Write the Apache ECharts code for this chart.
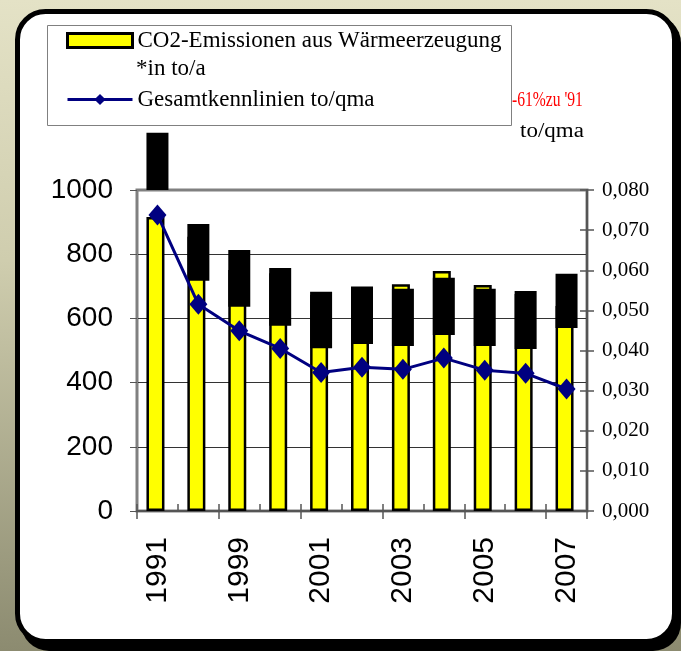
<!DOCTYPE html>
<html><head><meta charset="utf-8">
<script src="https://cdn.jsdelivr.net/npm/echarts@6/dist/echarts.min.js"></script>
<style>
html,body{margin:0;padding:0;width:681px;height:651px;overflow:hidden;
background:linear-gradient(to bottom,#e4e2c6 0%,#cfcdae 40%,#8c8b70 100%);}
#c{width:681px;height:651px;}
</style>
</head><body><div id="c"></div>
<script>
// Data
const categories = ['1991','1998','1999','2000','2001','2002','2003','2004','2005','2006','2007'];
const emissions = [916, 854, 751, 741, 673, 692, 706, 748, 704, 676, 639];
const coverBottom = [1000, 717, 636, 577, 507, 520, 514, 548, 514, 505, 570];
const coverTop = [1178, 894, 813, 757, 683, 699, 692, 727, 692, 685, 739];
const kennlinie = [0.0738, 0.0515, 0.0449, 0.0405, 0.0345, 0.0358, 0.0353, 0.0381, 0.0351, 0.0343, 0.0304];
const leftAxis = {min: 0, max: 1000, interval: 200};
const rightAxis = {min: 0, max: 0.08, interval: 0.01};
const barName = 'CO2-Emissionen aus Wärmeerzeugung';
const barNameLine2 = '*in to/a';
const lineName = 'Gesamtkennlinien to/qma';
const noteText = "-61%zu '91";
const rightUnit = 'to/qma';

const coverHeight = coverTop.map((t, i) => t - coverBottom[i]);
const sans = '"Liberation Sans", Arial, sans-serif';
const serif = '"Liberation Serif", "Times New Roman", serif';

const chart = echarts.init(document.getElementById('c'), null, {renderer: 'canvas'});
chart.setOption({
  animation: false,
  backgroundColor: 'transparent',
  grid: {left: 137, right: 94, top: 190, bottom: 140, show: true,
         borderColor: '#808080', borderWidth: 3, backgroundColor: 'transparent'},
  legend: {
    orient: 'vertical', left: 66, top: 29, padding: 0, itemGap: 36,
    itemWidth: 65, itemHeight: 14,
    textStyle: {fontFamily: serif, fontSize: 23, color: '#000', lineHeight: 23},
    data: [{name: barName, icon: 'rect', itemStyle: {borderWidth: 3}},
           {name: lineName, lineStyle: {width: 3}}],
    selectedMode: false
  },
  xAxis: [{
    type: 'category', data: categories, position: 'bottom',
    axisLine: {lineStyle: {color: '#555', width: 2}},
    axisTick: {show: true, length: 8, lineStyle: {color: '#555', width: 1.5}},
    axisLabel: {rotate: 90, interval: 1, margin: 26, color: '#000',
                fontFamily: sans, fontSize: 30}
  }, {
    type: 'category', data: categories, position: 'bottom',
    axisLine: {show: false},
    axisTick: {show: true, inside: true, length: 7, lineStyle: {color: '#555', width: 1.5}},
    axisLabel: {show: false}
  }],
  yAxis: [{
    type: 'value', position: 'left', ...leftAxis,
    axisLine: {show: true, lineStyle: {color: '#808080', width: 2}},
    axisTick: {show: true, length: 7, lineStyle: {color: '#555'}},
    axisLabel: {margin: 24, color: '#000', fontFamily: sans, fontSize: 28,
                formatter: v => String(v)},
    splitLine: {show: true, showMaxLine: false, lineStyle: {color: '#333', width: 1}}
  }, {
    type: 'value', position: 'right', ...rightAxis,
    axisLine: {show: true, lineStyle: {color: '#555', width: 2}},
    axisTick: {show: true, length: 7, lineStyle: {color: '#555', width: 1.5}},
    axisLabel: {margin: 15, color: '#000', fontFamily: serif, fontSize: 21,
                formatter: v => v.toFixed(3).replace('.', ',')},
    splitLine: {show: false}
  }, {
    type: 'value', position: 'right', ...rightAxis, offset: 0,
    axisLine: {show: false},
    axisTick: {show: true, inside: true, length: 7, lineStyle: {color: '#555', width: 1.5}},
    axisLabel: {show: false},
    splitLine: {show: false}
  }],
  series: [{
    name: barName, type: 'bar', data: emissions, barWidth: 18, barGap: '-100%',
    itemStyle: {color: '#ffff00', borderColor: '#000', borderWidth: 2.5},
    silent: true, z: 2
  }, {
    name: 'coverBase', type: 'bar', stack: 'cover', data: coverBottom, barWidth: 22,
    barGap: '-100%', itemStyle: {color: 'rgba(0,0,0,0)'}, silent: true, clip: false, z: 3
  }, {
    name: 'cover', type: 'bar', stack: 'cover', data: coverHeight, barWidth: 22,
    barGap: '-100%', itemStyle: {color: '#000'}, silent: true, clip: false, z: 3
  }, {
    name: lineName, type: 'line', yAxisIndex: 1, data: kennlinie,
    symbol: 'diamond', symbolSize: [18, 21],
    lineStyle: {color: '#000080', width: 3},
    itemStyle: {color: '#000080'}, silent: true, z: 5
  }],
  graphic: {elements: [
    {type: 'rect', z: -20, silent: true,
     shape: {x: 21, y: 15, width: 660, height: 636, r: 28}, style: {fill: '#000'}},
    {type: 'rect', z: -19, silent: true,
     shape: {x: 17.5, y: 11.5, width: 657, height: 630, r: 28},
     style: {fill: '#fff', stroke: '#000', lineWidth: 5}},
    {type: 'rect', z: -5, silent: true,
     shape: {x: 47.5, y: 25.5, width: 464, height: 100},
     style: {fill: '#fff', stroke: '#808080', lineWidth: 1}},
    {type: 'text', z: 10, silent: true,
     style: {x: 136, y: 69, text: barNameLine2, font: '23px ' + serif, fill: '#000', verticalAlign: 'middle'}},
    {type: 'text', z: 10, silent: true, x: 512, y: 101, scaleX: 0.78,
     style: {x: 0, y: 0, text: noteText, font: '20px ' + serif, fill: '#ff0000', verticalAlign: 'middle'}},
    {type: 'text', z: 10, silent: true, x: 520, y: 132, scaleX: 1.15,
     style: {x: 0, y: 0, text: rightUnit, font: '20px ' + serif, fill: '#000', verticalAlign: 'middle'}}
  ]}
});
</script></body></html>
